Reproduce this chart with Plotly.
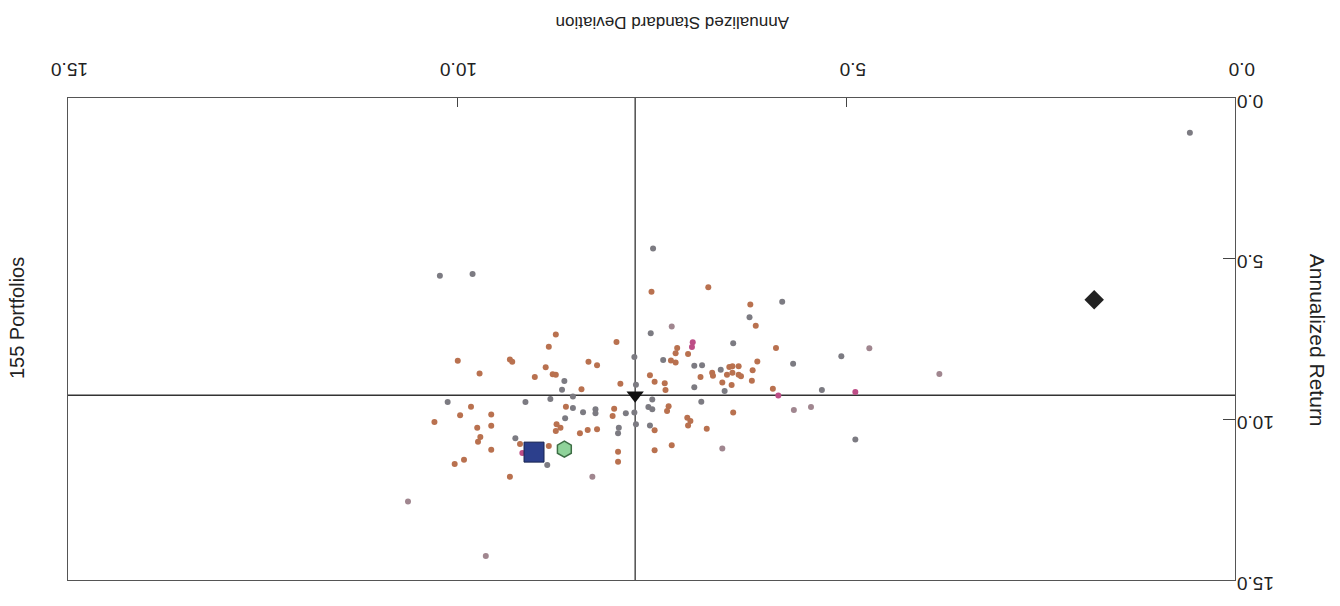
import plotly.graph_objects as go

# Annualized standard deviation (x) and annualized return (y) per portfolio group
brown_sd = [7.50, 8.73, 8.82, 7.95, 7.17, 7.19, 7.03, 9.99, 9.32, 9.29, 8.31, 8.20, 8.86, 7.25, 7.19,
            9.71, 9.00, 8.77, 8.73, 7.52, 7.46, 8.40, 7.90, 7.33, 7.32, 9.82, 9.96, 9.56, 8.60, 7.98,
            8.00, 7.28, 7.30, 10.29, 9.74, 9.56, 8.72, 8.67, 8.73, 8.42, 8.32, 8.20, 7.46, 7.04, 7.00,
            7.03, 9.70, 9.73, 9.19, 8.82, 9.56, 9.91, 10.03, 7.93, 7.93, 7.46, 7.24, 9.32, 6.77, 6.23,
            6.16, 5.90, 6.14, 6.87, 6.72, 6.71, 6.50, 6.46, 6.38, 6.53, 6.46, 6.38, 6.35, 6.20, 6.21,
            6.59, 6.47, 5.94, 6.45, 6.79]
brown_ret = [6.03, 7.36, 7.74, 7.59, 7.78, 7.94, 7.97, 8.18, 8.14, 8.21, 8.21, 8.32, 8.38, 8.17, 8.23,
             8.57, 8.68, 8.60, 8.61, 8.63, 8.83, 9.06, 8.89, 8.88, 9.09, 9.61, 9.87, 9.85, 9.61, 9.67,
             9.90, 9.59, 9.74, 10.08, 10.26, 10.20, 10.15, 10.26, 10.36, 10.43, 10.33, 10.31, 10.34, 9.95, 10.05,
             10.19, 10.55, 10.70, 10.77, 10.83, 10.95, 11.26, 11.39, 11.01, 11.32, 10.96, 10.81, 11.79, 5.89, 6.43,
             7.09, 7.78, 8.20, 8.68, 8.55, 8.64, 8.37, 8.35, 8.35, 8.61, 8.55, 8.61, 8.66, 8.47, 8.80,
             8.85, 8.93, 9.05, 9.79, 10.29]

gray_sd = [0.58, 10.22, 9.80, 7.48, 7.51, 7.35, 6.95, 7.72, 8.62, 8.65, 6.95, 7.70, 8.51, 8.80, 10.12,
           9.12, 8.51, 8.38, 8.22, 8.22, 7.83, 7.72, 7.54, 7.49, 7.49, 8.61, 7.92, 7.93, 7.70, 7.52,
           9.25, 8.84, 5.82, 6.24, 6.45, 5.06, 5.68, 6.85, 6.61, 6.56, 5.31, 6.86, 4.88]
gray_ret = [1.08, 5.53, 5.48, 4.68, 7.32, 8.15, 8.33, 8.06, 8.81, 9.08, 9.00, 8.92, 9.29, 9.37, 9.46,
            9.46, 9.65, 9.78, 9.69, 9.81, 9.81, 9.79, 9.62, 9.69, 9.38, 9.97, 10.26, 10.43, 10.15, 10.19,
            10.59, 11.42, 6.34, 6.82, 7.63, 8.04, 8.27, 8.32, 8.46, 9.12, 9.09, 9.45, 10.63]

mauve_sd = [7.24, 8.26, 10.63, 9.63, 5.67, 4.70, 3.80, 5.45, 6.59]
mauve_ret = [7.11, 11.79, 12.56, 14.25, 9.71, 7.79, 8.59, 9.62, 10.91]

magenta_sd = [6.97, 6.98, 5.87, 4.88, 9.16]
magenta_ret = [7.60, 7.75, 9.26, 9.15, 11.05]

# Highlighted portfolios / benchmarks
diamond_pt = [1.81, 6.28]
benchmark_pt = [7.71, 9.25]
square_pt = [9.01, 11.02]
hexagon_pt = [8.62, 10.93]

tick_vals = [0.0, 5.0, 10.0, 15.0]
# y labels padded with a figure space so the (upside-down) labels line up on their visual left edge
y_tick_text = [("\u2007" if v < 10 else "") + f"{v:.1f}" for v in tick_vals]

fig = go.Figure()

def dots(xs, ys, color):
    fig.add_trace(go.Scatter(x=xs, y=ys, mode="markers",
                             marker=dict(size=6, color=color, line=dict(width=0)),
                             showlegend=False, hoverinfo="x+y"))

dots(gray_sd, gray_ret, "#7c7b82")
dots(mauve_sd, mauve_ret, "#a0868f")
dots(brown_sd, brown_ret, "#b9714f")
dots(magenta_sd, magenta_ret, "#bd4d86")

fig.add_trace(go.Scatter(x=[diamond_pt[0]], y=[diamond_pt[1]], mode="markers",
                         marker=dict(symbol="diamond", size=15, color="#222222"),
                         showlegend=False))
fig.add_trace(go.Scatter(x=[square_pt[0]], y=[square_pt[1]], mode="markers",
                         marker=dict(symbol="square", size=20, color="#2c3f8c",
                                     line=dict(color="#1a2550", width=1)),
                         showlegend=False))
fig.add_trace(go.Scatter(x=[hexagon_pt[0]], y=[hexagon_pt[1]], mode="markers",
                         marker=dict(symbol="hexagon", size=16, color="#8fd39a",
                                     line=dict(color="#3d6e45", width=1.5)),
                         showlegend=False))
fig.add_trace(go.Scatter(x=[benchmark_pt[0]], y=[benchmark_pt[1]], mode="markers",
                         marker=dict(symbol="triangle-down", size=15, color="#111111"),
                         showlegend=False))

# crosshair through the benchmark
fig.add_shape(type="line", xref="x", yref="paper", x0=benchmark_pt[0], x1=benchmark_pt[0],
              y0=0, y1=1, line=dict(color="#333333", width=1.3), layer="below")
fig.add_shape(type="line", xref="paper", yref="y", x0=0, x1=1, y0=benchmark_pt[1], y1=benchmark_pt[1],
              line=dict(color="#333333", width=1.3), layer="below")

font_family = "Liberation Sans, Arial, sans-serif"

fig.update_layout(
    width=1340, height=606,
    margin=dict(l=68, r=105, t=98, b=23),
    paper_bgcolor="white", plot_bgcolor="white",
    font=dict(family=font_family, size=16, color="#222222"),
    xaxis=dict(range=[15, 0], side="top", tickvals=tick_vals, tickformat=".1f",
               tickangle=180, ticks="inside", ticklen=9, tickcolor="#444444",
               ticklabelshift=-20, ticklabelstandoff=7,
               showline=True, linecolor="#555555", linewidth=1.2, mirror=True,
               showgrid=False, zeroline=False, tickfont=dict(size=19)),
    yaxis=dict(range=[15, 0], side="right", tickvals=tick_vals, ticktext=y_tick_text,
               tickangle=180, ticks="inside", ticklen=12, tickcolor="#444444",
               ticklabelshift=-9, ticklabelstandoff=34,
               showline=True, linecolor="#555555", linewidth=1.2, mirror=True,
               showgrid=False, zeroline=False, tickfont=dict(size=19)),
    annotations=[
        dict(text="Annualized Standard Deviation", xref="paper", yref="paper",
             x=0.518, y=1.18, textangle=180, showarrow=False, font=dict(size=17)),
        dict(text="Annualized Return", xref="paper", yref="paper",
             x=1.082, y=0.498, textangle=90, showarrow=False, font=dict(size=21)),
        dict(text="155 Portfolios", xref="paper", yref="paper",
             x=-0.055, y=0.543, textangle=-90, showarrow=False, font=dict(size=20)),
    ],
)

fig.write_html("out.html")
